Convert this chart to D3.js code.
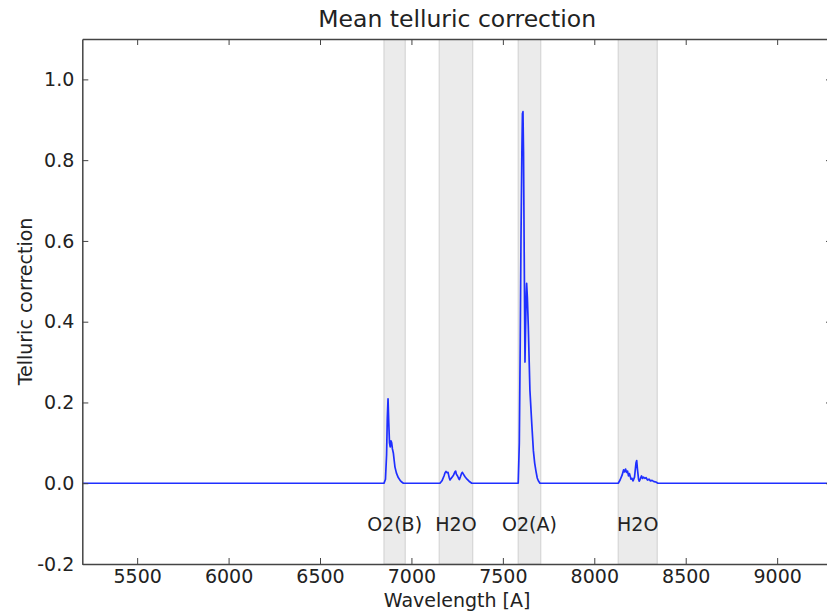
<!DOCTYPE html>
<html><head><meta charset="utf-8">
<script src="https://cdn.jsdelivr.net/npm/d3@7"></script>
<style>
html,body{margin:0;padding:0;background:#fff;}
text{font-family:"DejaVu Sans",sans-serif;fill:#222;}
</style></head>
<body>
<svg id="chart" width="827" height="612"></svg>
<script>
// ---- data ----
const xDomain = [5200, 9300];
const yDomain = [-0.2, 1.1];
const xTicks = [5500, 6000, 6500, 7000, 7500, 8000, 8500, 9000];
const yTicks = [-0.2, 0.0, 0.2, 0.4, 0.6, 0.8, 1.0];
const bandStarts = [6850, 7152, 7584, 8131];
const bandEnds = [6966, 7335, 7707, 8344];
const bandLabels = ["O2(B)", "H2O", "O2(A)", "H2O"];
const wavelength = [5200, 6850, 6858, 6864, 6868, 6872, 6876, 6880, 6884, 6888, 6892, 6896, 6901, 6906, 6910, 6918, 6928, 6938, 6947, 6956,
  7156, 7167, 7178, 7184, 7189, 7195, 7200, 7206, 7211, 7217, 7222, 7230, 7238, 7242, 7246, 7252, 7257, 7262, 7268, 7274, 7278, 7285, 7293, 7304, 7315, 7330,
  7584, 7590, 7595, 7599, 7604, 7607, 7610, 7613, 7617, 7621, 7624, 7628, 7630, 7634, 7639, 7644, 7648, 7658, 7667, 7674, 7681, 7688, 7694, 7703,
  8131, 8141, 8152, 8160, 8165, 8171, 8176, 8182, 8187, 8192, 8201, 8206, 8212, 8220, 8228, 8232, 8236, 8242, 8246, 8253, 8258, 8264, 8269, 8277, 8283, 8291, 8299, 8307, 8316, 8326, 8337, 8348, 9300];
const correction = [0, 0, 0.01, 0.07, 0.16, 0.209, 0.15, 0.10, 0.09, 0.105, 0.10, 0.085, 0.075, 0.055, 0.04, 0.025, 0.014, 0.007, 0.003, 0,
  0, 0.006, 0.018, 0.026, 0.029, 0.026, 0.027, 0.015, 0.008, 0.012, 0.015, 0.02, 0.028, 0.03, 0.022, 0.018, 0.013, 0.009, 0.016, 0.024, 0.027, 0.022, 0.016, 0.01, 0.005, 0,
  0, 0.1, 0.35, 0.6, 0.82, 0.915, 0.92, 0.82, 0.55, 0.30, 0.38, 0.47, 0.495, 0.46, 0.39, 0.30, 0.23, 0.148, 0.08, 0.05, 0.03, 0.013, 0.006, 0,
  0, 0.008, 0.02, 0.033, 0.028, 0.035, 0.027, 0.03, 0.018, 0.024, 0.01, 0.012, 0.006, 0.015, 0.05, 0.056, 0.035, 0.01, 0.005, 0.012, 0.018, 0.012, 0.015, 0.012, 0.014, 0.008, 0.01, 0.006, 0.007, 0.004, 0.003, 0, 0];

// ---- layout ----
const L = 82.3, T = 39, R = 832, B = 564;
const svg = d3.select("#chart");
const x = d3.scaleLinear().domain(xDomain).range([L, R]);
const y = d3.scaleLinear().domain(yDomain).range([B, T]);

svg.append("defs").append("clipPath").attr("id", "clip")
  .append("rect").attr("x", L).attr("y", T).attr("width", R - L).attr("height", B - T);

const plot = svg.append("g").attr("clip-path", "url(#clip)");
// bands
plot.selectAll("rect.band").data(bandStarts).join("rect")
  .attr("class", "band")
  .attr("x", (d) => x(d))
  .attr("width", (d, i) => x(bandEnds[i]) - x(d))
  .attr("y", T).attr("height", B - T)
  .attr("fill", "#ebebeb").attr("stroke", "#d6d6d6").attr("stroke-width", 1.2);

// line
const pts = wavelength.map((w, i) => [w, correction[i]]);
plot.append("path").datum(pts)
  .attr("fill", "none").attr("stroke", "#1f2fff").attr("stroke-width", 1.7)
  .attr("stroke-linejoin", "round")
  .attr("d", d3.line().x(d => x(d[0])).y(d => y(d[1])));

// band labels
svg.selectAll("text.bl").data(bandLabels).join("text")
  .attr("class", "bl")
  .attr("x", (d, i) => x((bandStarts[i] + bandEnds[i]) / 2))
  .attr("y", y(-0.1) + 7)
  .attr("text-anchor", "middle").attr("font-size", 19)
  .text(d => d);

// axes (ticks inward, classic style)
const tickLen = 6;
const axB = svg.append("g").attr("transform", `translate(0,${B})`)
  .call(d3.axisBottom(x).tickValues(xTicks).tickSizeInner(-tickLen).tickSizeOuter(0).tickPadding(6).tickFormat(d3.format("d")));
const axT = svg.append("g").attr("transform", `translate(0,${T})`)
  .call(d3.axisTop(x).tickValues(xTicks).tickSizeInner(-tickLen).tickSizeOuter(0).tickFormat(""));
const axL = svg.append("g").attr("transform", `translate(${L},0)`)
  .call(d3.axisLeft(y).tickValues(yTicks).tickSizeInner(-tickLen).tickSizeOuter(0).tickPadding(8).tickFormat(d => d.toFixed(1)));
const axR = svg.append("g").attr("transform", `translate(${R},0)`)
  .call(d3.axisRight(y).tickValues(yTicks).tickSizeInner(-tickLen).tickSizeOuter(0).tickFormat(""));
[axB, axT, axL, axR].forEach(a => {
  a.select(".domain").attr("stroke", "#444").attr("stroke-width", 1.5);
  a.selectAll(".tick line").attr("stroke", "#444").attr("stroke-width", 1);
  a.selectAll(".tick text").attr("font-size", 19).attr("font-family", "DejaVu Sans").attr("fill", "#222");
});

// title & axis labels
svg.append("text").attr("x", (L + R) / 2).attr("y", 27).attr("text-anchor", "middle")
  .attr("font-size", 23.5).text("Mean telluric correction");
svg.append("text").attr("x", (L + R) / 2).attr("y", 607).attr("text-anchor", "middle")
  .attr("font-size", 19).text("Wavelength [A]");
svg.append("text").attr("transform", `translate(32,${(T + B) / 2}) rotate(-90)`).attr("text-anchor", "middle")
  .attr("font-size", 19).text("Telluric correction");
</script>
</body></html>
